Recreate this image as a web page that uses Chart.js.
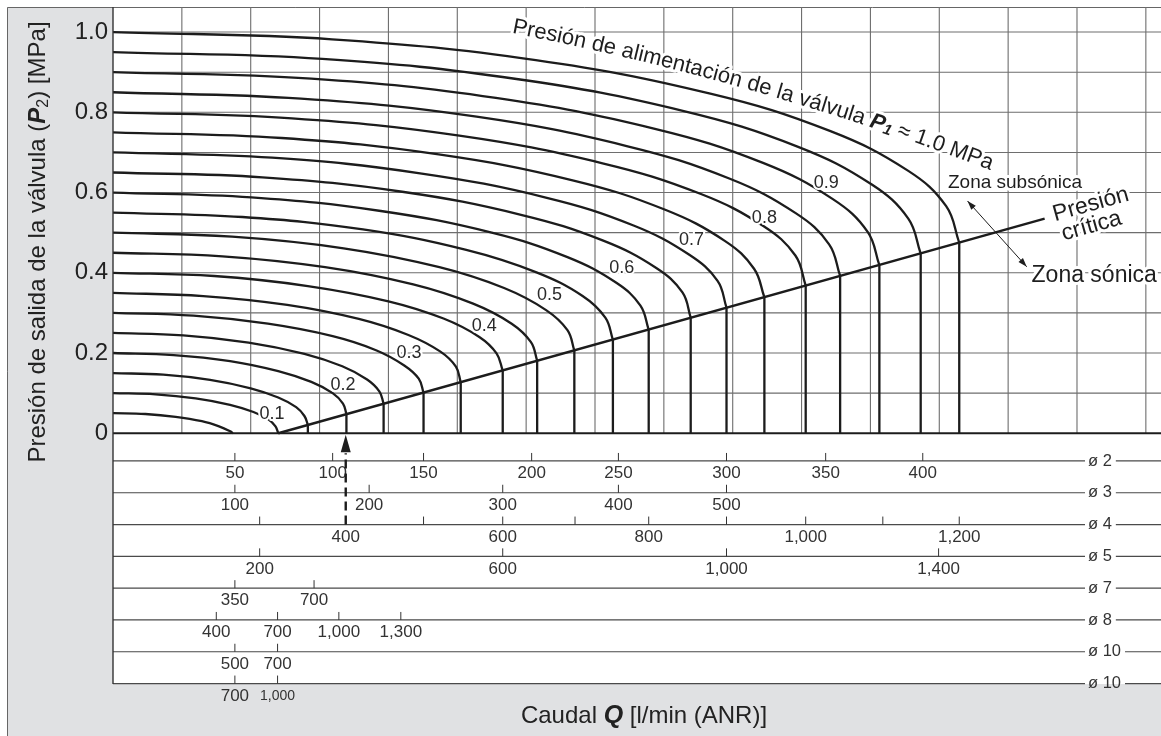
<!DOCTYPE html>
<html lang="es">
<head>
<meta charset="utf-8">
<title>Caudal de la válvula</title>
<script src="https://cdn.jsdelivr.net/npm/chart.js@4.4.1/dist/chart.umd.min.js"></script>
<style>
  html, body { margin: 0; padding: 0; background: #fff; overflow: hidden; }
  canvas { display: block; }
</style>
</head>
<body>
<canvas id="flowChart" width="1161" height="736"></canvas>
<script>
'use strict';
// colours and fonts up here so they are easy to tweak later
var ink = '#1c1c1c';
var gridColor = '#6e6e6e';
var paperGray = '#e0e1e3';
var fontFam = '"Liberation Sans", Arial, Helvetica, sans-serif';

// supply pressure P1 of each curve [MPa]
var supplyP = [0.05, 0.1, 0.15, 0.2, 0.25, 0.3, 0.35, 0.4, 0.45, 0.5,
               0.55, 0.6, 0.65, 0.7, 0.75, 0.8, 0.85, 0.9, 0.95, 1.0];

// flow along each curve, in grid divisions
var curveQ = [
  [0, 0.47, 0.91, 1.29, 1.54, 1.71, 1.74],
  [0, 0.62, 1.20, 1.70, 2.04, 2.26, 2.36, 2.40],
  [0, 0.73, 1.41, 2.00, 2.40, 2.66, 2.78, 2.83],
  [0, 0.88, 1.70, 2.40, 2.88, 3.19, 3.34, 3.39],
  [0, 1.02, 1.97, 2.78, 3.33, 3.69, 3.87, 3.93],
  [0, 1.17, 2.25, 3.19, 3.82, 4.23, 4.44, 4.51],
  [0, 1.31, 2.53, 3.57, 4.29, 4.75, 4.98, 5.05],
  [0, 1.47, 2.83, 4.00, 4.80, 5.32, 5.57, 5.66],
  [0, 1.59, 3.08, 4.36, 5.23, 5.79, 6.07, 6.16],
  [0, 1.73, 3.35, 4.74, 5.68, 6.29, 6.60, 6.70],
  [0, 1.88, 3.63, 5.13, 6.15, 6.82, 7.15, 7.26],
  [0, 2.01, 3.89, 5.50, 6.60, 7.31, 7.66, 7.78],
  [0, 2.17, 4.20, 5.94, 7.12, 7.89, 8.27, 8.39],
  [0, 2.31, 4.46, 6.30, 7.56, 8.37, 8.78, 8.91],
  [0, 2.45, 4.73, 6.69, 8.02, 8.89, 9.31, 9.46],
  [0, 2.60, 5.03, 7.11, 8.53, 9.45, 9.91, 10.06],
  [0, 2.73, 5.28, 7.46, 8.95, 9.92, 10.40, 10.56],
  [0, 2.88, 5.56, 7.87, 9.44, 10.46, 10.96, 11.13],
  [0, 3.04, 5.86, 8.29, 9.95, 11.02, 11.55, 11.73],
  [0, 3.18, 6.14, 8.69, 10.42, 11.55, 12.10, 12.29]
];
// outlet pressure P2 along each curve [MPa]
var curveP2 = [
  [0.05, 0.048, 0.041, 0.030, 0.017, 0.004, 0],
  [0.10, 0.097, 0.087, 0.071, 0.053, 0.034, 0.017, 0],
  [0.15, 0.146, 0.133, 0.112, 0.089, 0.065, 0.043, 0.021],
  [0.20, 0.195, 0.180, 0.155, 0.128, 0.100, 0.074, 0.048],
  [0.25, 0.244, 0.226, 0.198, 0.167, 0.134, 0.104, 0.074],
  [0.30, 0.293, 0.273, 0.242, 0.207, 0.169, 0.136, 0.101],
  [0.35, 0.342, 0.320, 0.285, 0.245, 0.204, 0.166, 0.127],
  [0.40, 0.392, 0.367, 0.329, 0.286, 0.240, 0.199, 0.156],
  [0.45, 0.441, 0.414, 0.371, 0.323, 0.273, 0.227, 0.181],
  [0.50, 0.490, 0.461, 0.414, 0.362, 0.307, 0.257, 0.206],
  [0.55, 0.539, 0.508, 0.457, 0.401, 0.342, 0.288, 0.233],
  [0.60, 0.588, 0.554, 0.500, 0.439, 0.375, 0.318, 0.258],
  [0.65, 0.638, 0.602, 0.544, 0.480, 0.412, 0.351, 0.288],
  [0.70, 0.687, 0.648, 0.587, 0.518, 0.445, 0.380, 0.313],
  [0.75, 0.736, 0.695, 0.630, 0.557, 0.479, 0.410, 0.339],
  [0.80, 0.785, 0.742, 0.673, 0.597, 0.516, 0.443, 0.368],
  [0.85, 0.834, 0.789, 0.716, 0.635, 0.548, 0.471, 0.392],
  [0.90, 0.884, 0.836, 0.759, 0.674, 0.583, 0.502, 0.419],
  [0.95, 0.933, 0.883, 0.803, 0.714, 0.620, 0.535, 0.448],
  [1.00, 0.982, 0.930, 0.846, 0.753, 0.654, 0.566, 0.475]
];

// critical pressure line
var critQ = [2.40, 13.53];
var critP2 = [0, 0.535];

// little tags on the curves
var tagText = ['0.1', '0.2', '0.3', '0.4', '0.5', '0.6', '0.7', '0.8', '0.9'];
var tagQ = [2.31, 3.34, 4.30, 5.39, 6.34, 7.39, 8.40, 9.46, 10.36];
var tagP2 = [0.047, 0.120, 0.201, 0.268, 0.345, 0.411, 0.482, 0.537, 0.624];

var yTicks = [0, 0.2, 0.4, 0.6, 0.8, 1.0];

// flow scales [l/min (ANR)] under the chart, one row per orifice
var pipeSizes = ['ø 2', 'ø 3', 'ø 4', 'ø 5', 'ø 7', 'ø 8', 'ø 10', 'ø 10'];
var flowTicks = [
  [50, 100, 150, 200, 250, 300, 350, 400],
  [100, 200, 300, 400, 500],
  [300, 400, 500, 600, 700, 800, 900, 1000, 1100, 1200],
  [200, 600, 1000, 1400],
  [350, 700],
  [400, 700, 1000, 1300],
  [500, 700],
  [700, 1000]
];
var flowTickQ = [
  [1.77, 3.19, 4.51, 6.08, 7.34, 8.91, 10.35, 11.76],
  [1.77, 3.72, 5.66, 7.34, 8.91],
  [2.13, 3.38, 4.51, 5.66, 6.71, 7.78, 8.91, 10.06, 11.18, 12.29],
  [2.13, 5.66, 8.91, 11.99],
  [1.77, 2.92],
  [1.50, 2.39, 3.28, 4.18],
  [1.77, 2.39],
  [1.77, 2.39]
];
var flowTickHidden = [[], [], [300, 500, 700, 900, 1100], [], [], [], [], []];
// reading example: 400 l/min on the ø4 row
var exampleQ = 3.38;

function f(size, style) {
  return (style ? style + ' ' : '') + size + 'px ' + fontFam;
}

function fmtFlow(v) {
  return v >= 1000 ? Math.floor(v / 1000) + ',' + String(v % 1000).padStart(3, '0') : String(v);
}

// rows sit under the P2 = 0 line
function bandY(chart, i) {
  return chart.scales.y.getPixelForValue(0) + 27.7 + i * 31.8;
}

function haloText(ctx, text, x, y, w) {
  ctx.save();
  ctx.lineJoin = 'round';
  ctx.strokeStyle = '#fff';
  ctx.lineWidth = w;
  ctx.strokeText(text, x, y);
  ctx.restore();
  ctx.fillText(text, x, y);
}

function drawRich(ctx, parts, x, y) {
  var w = 0;
  parts.forEach(function (p) { ctx.font = p.font; w += ctx.measureText(p.text).width; });
  var cx = x - w / 2;
  ctx.textAlign = 'left';
  ctx.textBaseline = 'alphabetic';
  parts.forEach(function (p) {
    ctx.font = p.font;
    ctx.fillText(p.text, cx, y + (p.dy || 0));
    cx += ctx.measureText(p.text).width;
  });
}

// text bent along a gentle arc, angle going from a0 to a1
function drawArcText(ctx, parts, sx, sy, a0, a1) {
  var glyphs = [];
  var total = 0;
  parts.forEach(function (p) {
    ctx.font = p.font;
    Array.from(p.text).forEach(function (ch) {
      var w = ctx.measureText(ch).width;
      glyphs.push({ ch: ch, font: p.font, s: total + w / 2, dy: p.dy || 0 });
      total += w;
    });
  });
  var R = total / (a1 - a0);
  ['halo', 'ink'].forEach(function (pass) {
    glyphs.forEach(function (g) {
      var phi = a0 + g.s / R;
      ctx.save();
      ctx.translate(sx + R * (Math.sin(phi) - Math.sin(a0)), sy + R * (Math.cos(a0) - Math.cos(phi)));
      ctx.rotate(phi);
      ctx.font = g.font;
      ctx.textAlign = 'center';
      ctx.textBaseline = 'alphabetic';
      if (pass === 'halo') {
        ctx.strokeStyle = '#fff';
        ctx.lineWidth = 6;
        ctx.lineJoin = 'round';
        ctx.strokeText(g.ch, 0, g.dy);
      } else {
        ctx.fillText(g.ch, 0, g.dy);
      }
      ctx.restore();
    });
  });
}

function arrowHead(ctx, fx, fy, tx, ty) {
  var ang = Math.atan2(ty - fy, tx - fx);
  ctx.beginPath();
  ctx.moveTo(tx, ty);
  ctx.lineTo(tx - 9 * Math.cos(ang) + 3 * Math.sin(ang), ty - 9 * Math.sin(ang) - 3 * Math.cos(ang));
  ctx.lineTo(tx - 9 * Math.cos(ang) - 3 * Math.sin(ang), ty - 9 * Math.sin(ang) + 3 * Math.cos(ang));
  ctx.closePath();
  ctx.fill();
}

var paperPlugin = {
  id: 'paper',
  beforeDraw: function (chart) {
    var ctx = chart.ctx, a = chart.chartArea, sx = chart.scales.x, sy = chart.scales.y;
    var y0 = sy.getPixelForValue(0);
    ctx.save();
    ctx.fillStyle = '#fff';
    ctx.fillRect(0, 0, chart.width, chart.height);
    ctx.fillStyle = paperGray;
    ctx.fillRect(7, 7, chart.width - 7, chart.height - 7);
    ctx.fillStyle = '#fff';
    ctx.fillRect(a.left, a.top, a.right - a.left, a.bottom - a.top);
    ctx.strokeStyle = '#666';
    ctx.lineWidth = 1;
    ctx.beginPath();
    ctx.moveTo(7.5, chart.height);
    ctx.lineTo(7.5, 7.5);
    ctx.lineTo(chart.width, 7.5);
    ctx.stroke();

    // grid only above the P2 = 0 line
    ctx.strokeStyle = gridColor;
    ctx.lineWidth = 1.1;
    ctx.beginPath();
    for (var q = 1; q <= sx.max; q++) {
      var px = sx.getPixelForValue(q);
      ctx.moveTo(px, a.top);
      ctx.lineTo(px, y0);
    }
    for (var k = 1; k <= 10; k++) {
      var py = sy.getPixelForValue(k / 10);
      ctx.moveTo(a.left, py);
      ctx.lineTo(a.right, py);
    }
    ctx.stroke();

    // orifice rows with their flow ticks
    pipeSizes.forEach(function (name, i) {
      var by = bandY(chart, i);
      ctx.font = f(16.5);
      var tx = a.right - 73;
      var tw = ctx.measureText(name).width;
      ctx.strokeStyle = '#4a4a4a';
      ctx.lineWidth = 1.2;
      ctx.beginPath();
      ctx.moveTo(a.left, by);
      ctx.lineTo(tx - 3, by);
      ctx.moveTo(tx + tw + 4, by);
      ctx.lineTo(a.right, by);
      ctx.stroke();
      ctx.fillStyle = '#333';
      ctx.textAlign = 'left';
      ctx.textBaseline = 'middle';
      ctx.fillText(name, tx, by);

      ctx.strokeStyle = '#333';
      ctx.lineWidth = 1;
      flowTicks[i].forEach(function (v, j) {
        var px = sx.getPixelForValue(flowTickQ[i][j]);
        ctx.beginPath();
        ctx.moveTo(px, by - 8);
        ctx.lineTo(px, by);
        ctx.stroke();
        if (flowTickHidden[i].indexOf(v) < 0) {
          ctx.font = (i === pipeSizes.length - 1 && v >= 1000) ? f(14) : f(17);
          ctx.textAlign = 'center';
          ctx.fillText(fmtFlow(v), px, by + 12.5);
        }
      });
    });
    ctx.restore();
  },
  afterDatasetsDraw: function (chart) {
    var ctx = chart.ctx, a = chart.chartArea, sx = chart.scales.x, sy = chart.scales.y;
    var y0 = sy.getPixelForValue(0);
    ctx.save();
    ctx.strokeStyle = ink;
    ctx.lineWidth = 2;
    ctx.beginPath();
    ctx.moveTo(a.left, y0);
    ctx.lineTo(a.right, y0);
    ctx.stroke();
    ctx.strokeStyle = '#333';
    ctx.lineWidth = 1.4;
    ctx.beginPath();
    ctx.moveTo(a.left, a.top);
    ctx.lineTo(a.left, a.bottom);
    ctx.stroke();

    // curve tags
    ctx.fillStyle = '#2a2a2a';
    ctx.font = f(18);
    ctx.textAlign = 'center';
    ctx.textBaseline = 'middle';
    tagText.forEach(function (t, i) {
      haloText(ctx, t, sx.getPixelForValue(tagQ[i]), sy.getPixelForValue(tagP2[i]), 4);
    });

    // supply pressure caption along the top curve
    ctx.fillStyle = '#1e1e1e';
    drawArcText(ctx, [
      { text: 'Presión de alimentación de la válvula ', font: f(22) },
      { text: 'P', font: f(22, 'italic bold') },
      { text: '1', font: f(15, 'italic bold'), dy: 2 },
      { text: ' ≈ 1.0 MPa', font: f(22) }
    ], sx.getPixelForValue(5.79), sy.getPixelForValue(0.998), 11 * Math.PI / 180, 21 * Math.PI / 180);

    // critical pressure caption, parallel to the line
    var c0x = sx.getPixelForValue(critQ[0]), c0y = sy.getPixelForValue(critP2[0]);
    var c1x = sx.getPixelForValue(critQ[1]), c1y = sy.getPixelForValue(critP2[1]);
    ctx.save();
    ctx.translate(sx.getPixelForValue(14.2), sy.getPixelForValue(0.57));
    ctx.rotate(Math.atan2(c1y - c0y, c1x - c0x));
    ctx.font = f(23);
    ctx.textAlign = 'center';
    ctx.textBaseline = 'middle';
    haloText(ctx, 'Presión', 0, 0, 6);
    haloText(ctx, 'crítica', -5, 21, 6);
    ctx.restore();

    // zones
    ctx.font = f(19);
    ctx.textAlign = 'center';
    ctx.textBaseline = 'middle';
    haloText(ctx, 'Zona subsónica', sx.getPixelForValue(13.10), sy.getPixelForValue(0.625), 6);
    ctx.font = f(23);
    ctx.textAlign = 'left';
    haloText(ctx, 'Zona sónica', sx.getPixelForValue(13.34), sy.getPixelForValue(0.392), 6);

    var ax = sx.getPixelForValue(12.41), ay = sy.getPixelForValue(0.579);
    var bx = sx.getPixelForValue(13.27), by = sy.getPixelForValue(0.415);
    ctx.strokeStyle = ink;
    ctx.lineWidth = 1;
    ctx.beginPath();
    ctx.moveTo(ax, ay);
    ctx.lineTo(bx, by);
    ctx.stroke();
    arrowHead(ctx, bx, by, ax, ay);
    arrowHead(ctx, ax, ay, bx, by);

    // reading example arrow from the ø4 row
    var ex = sx.getPixelForValue(exampleQ);
    ctx.lineWidth = 2.4;
    ctx.setLineDash([9, 5]);
    ctx.beginPath();
    ctx.moveTo(ex, bandY(chart, 2));
    ctx.lineTo(ex, y0 + 20);
    ctx.stroke();
    ctx.setLineDash([]);
    ctx.beginPath();
    ctx.moveTo(ex, y0 + 1.5);
    ctx.lineTo(ex - 5, y0 + 19);
    ctx.lineTo(ex + 5, y0 + 19);
    ctx.closePath();
    ctx.fill();

    // axis titles
    ctx.fillStyle = '#222';
    ctx.save();
    ctx.translate(45, 242);
    ctx.rotate(-Math.PI / 2);
    drawRich(ctx, [
      { text: 'Presión de salida de la válvula (', font: f(24) },
      { text: 'P', font: f(24, 'italic bold') },
      { text: '2', font: f(16), dy: 3 },
      { text: ') [MPa]', font: f(24) }
    ], 0, 0);
    ctx.restore();
    drawRich(ctx, [
      { text: 'Caudal ', font: f(24) },
      { text: 'Q', font: f(25, 'italic bold') },
      { text: ' [l/min (ANR)]', font: f(24) }
    ], 644, 723);
    ctx.restore();
  }
};

var datasets = [];
supplyP.forEach(function (p, i) {
  var pts = curveQ[i].map(function (q, j) { return { x: q, y: curveP2[i][j] }; });
  datasets.push({ label: 'P1 = ' + p, data: pts, tension: 0.4, borderColor: ink, borderWidth: 2.3 });
  var last = pts[pts.length - 1];
  if (last.y > 0) {
    // choked part: flow stays constant down to P2 = 0
    datasets.push({ label: 'P1 = ' + p + ' sónico', data: [last, { x: last.x, y: 0 }], tension: 0, borderColor: ink, borderWidth: 2.3 });
  }
});
datasets.push({
  label: 'Presión crítica',
  data: critQ.map(function (q, j) { return { x: q, y: critP2[j] }; }),
  tension: 0, borderColor: ink, borderWidth: 2.5
});

Chart.defaults.font.family = fontFam;

function makeChart() {
  var ctx = document.getElementById('flowChart');
  return new Chart(ctx, {
    type: 'line',
    data: { datasets: datasets },
    options: {
      responsive: false,
      animation: false,
      devicePixelRatio: 1,
      events: [],
      layout: { autoPadding: false, padding: { left: 7, top: 7, right: 0, bottom: 52 } },
      elements: { point: { radius: 0 }, line: { fill: false } },
      scales: {
        x: { type: 'linear', min: 0, max: 15.22, display: false },
        y: {
          type: 'linear',
          min: -0.625,
          max: 1.0625,
          grid: { display: false, drawTicks: false },
          border: { display: false },
          afterBuildTicks: function (s) {
            s.ticks = yTicks.map(function (v) { return { value: v }; });
          },
          afterFit: function (s) {
            s.width = 106;
            s.paddingTop = 0;
            s.paddingBottom = 0;
          },
          ticks: {
            padding: 5,
            color: '#222',
            font: { size: 24 },
            callback: function (v) { return v === 0 ? '0' : v.toFixed(1); }
          }
        }
      },
      plugins: {
        legend: { display: false },
        tooltip: { enabled: false },
        colors: { enabled: false }
      }
    },
    plugins: [paperPlugin]
  });
}
makeChart();
</script>
</body>
</html>
